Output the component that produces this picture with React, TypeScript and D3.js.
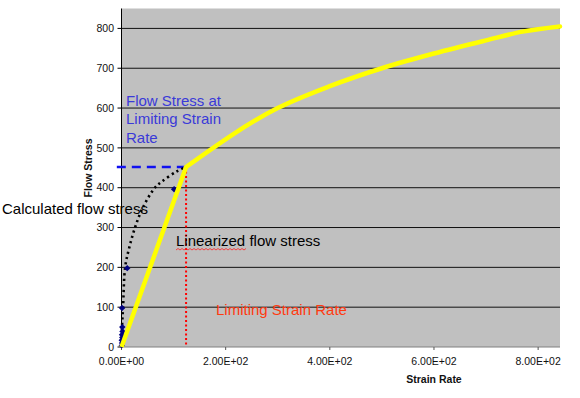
import React from "react";
import * as d3 from "d3";

const W = 580;
const H = 398;

// Linearized flow stress (yellow)
const linX = [0, 124];
const linY = [0, 452];
const curveX = [124, 300, 400, 500, 600, 700, 770, 842];
const curveY = [452, 600, 655, 700, 737, 770, 792, 805];

// Calculated flow stress (dotted fit)
const fitX = [0, 1, 3, 7, 15, 26, 41, 64, 77, 106, 124];
const fitY = [0, 50, 100, 200, 250, 300, 350, 400, 415, 441, 452];

// Calculated flow stress markers
const ptX = [0.5, 1, 0.5, 1.5, 1, 2, 1.5, 1, 11, 101];
const ptY = [4, 10, 17, 24, 31, 39, 50, 98, 198, 396];

// Limiting point
const limitX = 124;
const limitY = 452;

const yTicks = [0, 100, 200, 300, 400, 500, 600, 700, 800];
const xTicks = [0, 200, 400, 600, 800];

const FONT = "'Liberation Sans', Arial, sans-serif";

function sci(v: number): string {
  if (v === 0) return "0.00E+00";
  const e = Math.floor(Math.log10(Math.abs(v)));
  const m = v / Math.pow(10, e);
  const es = (e < 0 ? "-" : "+") + String(Math.abs(e)).padStart(2, "0");
  return m.toFixed(2) + "E" + es;
}

export default function App() {
  const x = d3.scaleLinear().domain([0, 842]).range([121.5, 560]);
  const y = d3.scaleLinear().domain([0, 850]).range([347, 8.5]);
  const left = x(0);
  const right = x(842);
  const top = y(850);
  const bottom = y(0);

  const lineLin = d3
    .line<[number, number]>()
    .x((d) => x(d[0]))
    .y((d) => y(d[1]));
  const lineCurve = d3
    .line<[number, number]>()
    .x((d) => x(d[0]))
    .y((d) => y(d[1]))
    .curve(d3.curveMonotoneX);
  const lineFit = d3
    .line<[number, number]>()
    .x((d) => x(d[0]))
    .y((d) => y(d[1]))
    .curve(d3.curveCatmullRom.alpha(0.5));

  const linPts = linX.map((v, i) => [v, linY[i]] as [number, number]);
  const curvePts = curveX.map((v, i) => [v, curveY[i]] as [number, number]);
  const fitPts = fitX.map((v, i) => [v, fitY[i]] as [number, number]);

  // spell-check squiggle under "Linearized"
  const sqStart = 176;
  const sqEnd = 246;
  let sq = `M${sqStart},250`;
  for (let px = sqStart + 2, k = 1; px <= sqEnd; px += 2, k++) {
    sq += ` L${px},${k % 2 ? 248.5 : 250}`;
  }

  return (
    <svg
      width={W}
      height={H}
      style={{ position: "absolute", left: 0, top: 0, background: "#fff" }}
      fontFamily={FONT}
    >
      <rect x={left} y={top} width={right - left} height={bottom - top} fill="#c0c0c0" />
      {yTicks
        .filter((t) => t > 0)
        .map((t) => (
          <line key={t} x1={left} x2={right} y1={y(t)} y2={y(t)} stroke="#111" strokeWidth={1} />
        ))}
      {/* axes */}
      <line x1={left} x2={right} y1={bottom} y2={bottom} stroke="#808080" strokeWidth={1} />
      <line x1={left} x2={left} y1={top} y2={bottom} stroke="#000" strokeWidth={1} />
      {yTicks.map((t) => (
        <g key={t}>
          <line x1={left - 4} x2={left} y1={y(t)} y2={y(t)} stroke="#000" />
          <text x={114} y={y(t)} dy="0.35em" textAnchor="end" fontSize={10.5} fill="#111">
            {t}
          </text>
        </g>
      ))}
      {xTicks.map((t) => (
        <g key={t}>
          <line x1={x(t)} x2={x(t)} y1={bottom} y2={bottom + 3} stroke="#555" />
          <text x={x(t)} y={365} textAnchor="middle" fontSize={10.5} fill="#111">
            {sci(t)}
          </text>
        </g>
      ))}
      <text x={434} y={383} textAnchor="middle" fontSize={10.5} fontWeight="bold" fill="#111">
        Strain Rate
      </text>
      <text
        transform={`translate(92,168) rotate(-90)`}
        textAnchor="middle"
        fontSize={10.5}
        fontWeight="bold"
        fill="#111"
      >
        Flow Stress
      </text>

      {/* guide lines */}
      <line
        x1={x(-9)}
        x2={x(limitX)}
        y1={y(limitY)}
        y2={y(limitY)}
        stroke="#1010f0"
        strokeWidth={2.5}
        strokeDasharray="9,6"
      />
      <line
        x1={x(limitX)}
        x2={x(limitX)}
        y1={y(limitY)}
        y2={bottom}
        stroke="#ff0000"
        strokeWidth={2}
        strokeDasharray="2,2.5"
      />

      {/* dotted calculated curve */}
      <path d={lineFit(fitPts) || ""} fill="none" stroke="#000" strokeWidth={2.6} strokeDasharray="2.2,3.3" />

      {/* markers */}
      {ptX.map((v, i) => {
        const cx = x(v);
        const cy = y(ptY[i]);
        return (
          <path
            key={i}
            d={`M${cx},${cy - 3.2} L${cx + 3.2},${cy} L${cx},${cy + 3.2} L${cx - 3.2},${cy} Z`}
            fill="#000080"
          />
        );
      })}

      {/* linearized yellow */}
      <path d={lineLin(linPts) || ""} fill="none" stroke="#ffff00" strokeWidth={4.5} strokeLinejoin="round" />
      <path d={lineCurve(curvePts) || ""} fill="none" stroke="#ffff00" strokeWidth={4.5} strokeLinecap="round" />

      {/* annotations */}
      <text x={126} fontSize={15} fill="#3a3ad8">
        <tspan x={126} y={105.5}>Flow Stress at</tspan>
        <tspan x={126} y={124}>Limiting Strain</tspan>
        <tspan x={126} y={142.5}>Rate</tspan>
      </text>
      <text x={2} y={214} fontSize={15} fill="#000">
        Calculated flow stress
      </text>
      <text x={176} y={246} fontSize={15} fill="#000">
        Linearized flow stress
      </text>
      <path d={sq} fill="none" stroke="#ff2020" strokeWidth={0.8} />
      <text x={216} y={315} fontSize={15} fill="#ff3a10">
        Limiting Strain Rate
      </text>
    </svg>
  );
}
